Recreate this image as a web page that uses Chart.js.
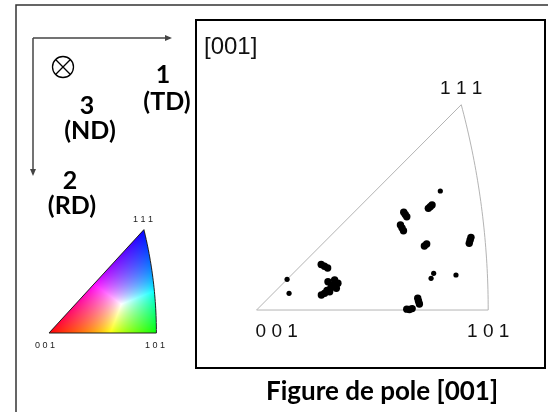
<!DOCTYPE html>
<html>
<head>
<meta charset="utf-8">
<script src="https://cdn.jsdelivr.net/npm/chart.js@4.4.0/dist/chart.umd.min.js"></script>
<style>
html, body { margin: 0; padding: 0; background: #fff; }
canvas { display: block; }
</style>
</head>
<body>
<canvas id="ipf" width="548" height="412"></canvas>
<script>
// stereographic coordinates (x toward 101, y toward 111) of the grains
var grainX = [0.1156, 0.1214, 0.1271,
  0.1277, 0.1366, 0.1427, 0.1307, 0.1159, 0.1218, 0.1396, 0.1455, 0.1330, 0.1260,
  0.3072, 0.3105, 0.3138,
  0.2632, 0.2659, 0.2686,
  0.2573, 0.2600, 0.2627,
  0.3001, 0.3042,
  0.3834, 0.3818, 0.3803,
  0.2882, 0.2897, 0.2912,
  0.2686, 0.2734, 0.2782];
var grainY = [0.0811, 0.0780, 0.0749,
  0.0505, 0.0446, 0.0387, 0.0326, 0.0267, 0.0298, 0.0535, 0.0476, 0.0400, 0.0350,
  0.1813, 0.1843, 0.1872,
  0.1742, 0.1703, 0.1664,
  0.1516, 0.1465, 0.1414,
  0.1141, 0.1177,
  0.1296, 0.1243, 0.1189,
  0.0209, 0.0158, 0.0107,
  0.0015, 0.0010, 0.0025];
// isolated small grains
var singleX = [0.3286, 0.3566, 0.0546, 0.0581, 0.3167, 0.3121];
var singleY = [0.2122, 0.0624, 0.0547, 0.0298, 0.0654, 0.0565];

// corners of the standard triangle
var cornerLabels = ['0 0 1', '1 0 1', '1 1 1'];
var cornerX = [0, Math.SQRT2 - 1, 1 / (Math.sqrt(3) + 1)];
var cornerY = [0, 0, 1 / (Math.sqrt(3) + 1)];

function toPoints(xs, ys) {
  return xs.map(function (x, i) { return { x: x, y: ys[i] }; });
}

// boundary of the standard triangle: 001-101 line, 101-111 arc, 111-001 line
function boundary() {
  var pts = [{ x: cornerX[0], y: cornerY[0] }, { x: cornerX[1], y: cornerY[1] }];
  var t1 = Math.atan2(cornerY[2], cornerX[2] + 1);
  for (var i = 1; i <= 40; i++) {
    var t = t1 * i / 40;
    pts.push({ x: -1 + Math.SQRT2 * Math.cos(t), y: Math.SQRT2 * Math.sin(t) });
  }
  pts.push({ x: cornerX[0], y: cornerY[0] });
  return pts;
}

// IPF colour of a point of the triangle (red 001, green 101, blue 111)
function ipfColor(u, v) {
  var r2 = u * u + v * v;
  var X = 2 * u / (1 + r2), Y = 2 * v / (1 + r2), Z = (1 - r2) / (1 + r2);
  var r = Math.max(Z - X, 0), g = Math.max(X - Y, 0), b = Math.max(Y, 0) * Math.sqrt(3);
  var m = Math.max(r, g, b) || 1;
  return [Math.pow(r / m, 0.75) * 255, Math.pow(g / m, 0.75) * 255, Math.pow(b / m, 0.75) * 255];
}

function drawKey(ctx) {
  var ox = 49, oy = 333, sx = 259.3, sy = 282.5;
  var w = 112, h = 108, x0 = 47, y0 = 226;
  var off = document.createElement('canvas');
  off.width = w; off.height = h;
  var octx = off.getContext('2d');
  var img = octx.createImageData(w, h);
  for (var j = 0; j < h; j++) {
    for (var i = 0; i < w; i++) {
      var u = (x0 + i + 0.5 - ox) / sx, v = (oy - (y0 + j + 0.5)) / sy;
      if (v < 0 || v > u || (u + 1) * (u + 1) + v * v > 2) continue;
      var c = ipfColor(u, v), k = (j * w + i) * 4;
      img.data[k] = c[0]; img.data[k + 1] = c[1]; img.data[k + 2] = c[2]; img.data[k + 3] = 255;
    }
  }
  octx.putImageData(img, 0, 0);
  ctx.drawImage(off, x0, y0);

  // outline
  ctx.strokeStyle = '#222';
  ctx.lineWidth = 1;
  ctx.beginPath();
  ctx.moveTo(ox, oy);
  ctx.lineTo(ox + cornerX[1] * sx, oy);
  var t1 = Math.atan2(cornerY[2], cornerX[2] + 1);
  for (var n = 1; n <= 30; n++) {
    var t = t1 * n / 30;
    ctx.lineTo(ox + (-1 + Math.SQRT2 * Math.cos(t)) * sx, oy - Math.SQRT2 * Math.sin(t) * sy);
  }
  ctx.lineTo(ox, oy);
  ctx.stroke();

  ctx.fillStyle = '#222';
  ctx.font = '9px "Liberation Sans", Arial, sans-serif';
  ctx.textBaseline = 'alphabetic';
  ctx.textAlign = 'left';
  ctx.fillText(cornerLabels[0], 35, 348);
  ctx.textAlign = 'center';
  ctx.fillText(cornerLabels[1], 155, 348);
  ctx.fillText(cornerLabels[2], 143, 222);
}

function arrow(ctx, x1, y1, x2, y2) {
  ctx.beginPath();
  ctx.moveTo(x1, y1);
  ctx.lineTo(x2, y2);
  ctx.stroke();
  var a = Math.atan2(y2 - y1, x2 - x1);
  ctx.beginPath();
  ctx.moveTo(x2 + Math.cos(a) * 2, y2 + Math.sin(a) * 2);
  ctx.lineTo(x2 - Math.cos(a) * 5 + Math.sin(a) * 3, y2 - Math.sin(a) * 5 - Math.cos(a) * 3);
  ctx.lineTo(x2 - Math.cos(a) * 5 - Math.sin(a) * 3, y2 - Math.sin(a) * 5 + Math.cos(a) * 3);
  ctx.closePath();
  ctx.fill();
}

var framePlugin = {
  id: 'frame',
  beforeDraw: function (chart) {
    var ctx = chart.ctx;
    ctx.save();
    ctx.fillStyle = '#fff';
    ctx.fillRect(0, 0, chart.width, chart.height);
    ctx.restore();
  },
  beforeDatasetsDraw: function (chart) {
    var ctx = chart.ctx, xs = chart.scales.x, ys = chart.scales.y;
    var pts = boundary();
    ctx.save();
    ctx.strokeStyle = '#b4b4b4';
    ctx.lineWidth = 1;
    ctx.beginPath();
    pts.forEach(function (p, i) {
      var px = xs.getPixelForValue(p.x), py = ys.getPixelForValue(p.y);
      if (i === 0) ctx.moveTo(px, py); else ctx.lineTo(px, py);
    });
    ctx.stroke();
    ctx.restore();
  },
  afterDraw: function (chart) {
    var ctx = chart.ctx, a = chart.chartArea, xs = chart.scales.x, ys = chart.scales.y;
    ctx.save();

    // outer frame and plot box
    ctx.strokeStyle = '#333';
    ctx.lineWidth = 1.5;
    ctx.strokeRect(16, 5, 700, 700);
    ctx.strokeStyle = '#000';
    ctx.lineWidth = 2;
    ctx.strokeRect(a.left - 1, a.top - 1, a.right - a.left + 2, a.bottom - a.top + 2);

    // corner labels of the pole figure
    ctx.fillStyle = '#111';
    ctx.font = '19px "Liberation Sans", Arial, sans-serif';
    ctx.textBaseline = 'alphabetic';
    ctx.textAlign = 'left';
    ctx.fillText(cornerLabels[0], xs.getPixelForValue(cornerX[0]) - 1, ys.getPixelForValue(cornerY[0]) + 27);
    ctx.textAlign = 'center';
    ctx.fillText(cornerLabels[1], xs.getPixelForValue(cornerX[1]), ys.getPixelForValue(cornerY[1]) + 27);
    ctx.fillText(cornerLabels[2], xs.getPixelForValue(cornerX[2]), ys.getPixelForValue(cornerY[2]) - 11);
    ctx.textAlign = 'left';
    ctx.font = '24px "Liberation Sans", Arial, sans-serif';
    ctx.fillText('[001]', 204, 54);

    // title
    ctx.fillStyle = '#000';
    ctx.font = 'bold 26px Lato, "DejaVu Sans", sans-serif';
    ctx.textAlign = 'center';
    ctx.fillText('Figure de pole [001]', 382, 400);

    // sample axes
    ctx.strokeStyle = '#444';
    ctx.fillStyle = '#444';
    ctx.lineWidth = 1.5;
    arrow(ctx, 33, 38, 170, 38);
    arrow(ctx, 33, 38, 33, 174);
    ctx.strokeStyle = '#000';
    ctx.lineWidth = 1.3;
    ctx.beginPath();
    ctx.arc(63, 67, 10.5, 0, Math.PI * 2);
    var d = 10.5 * Math.SQRT1_2;
    ctx.moveTo(63 - d, 67 - d); ctx.lineTo(63 + d, 67 + d);
    ctx.moveTo(63 + d, 67 - d); ctx.lineTo(63 - d, 67 + d);
    ctx.stroke();

    ctx.fillStyle = '#000';
    ctx.font = 'bold 25px Lato, "DejaVu Sans", sans-serif';
    ctx.textAlign = 'center';
    ctx.fillText('1', 163, 83);
    ctx.fillText('(TD)', 167, 110);
    ctx.fillText('3', 87, 114);
    ctx.fillText('(ND)', 90, 139);
    ctx.fillText('2', 70, 189);
    ctx.fillText('(RD)', 72, 214);

    drawKey(ctx);
    ctx.restore();
  }
};

new Chart(document.getElementById('ipf'), {
  type: 'scatter',
  data: {
    datasets: [{
      label: 'grains',
      data: toPoints(grainX, grainY),
      backgroundColor: '#000',
      borderWidth: 0,
      pointRadius: 3.7
    }, {
      label: 'single',
      data: toPoints(singleX, singleY),
      backgroundColor: '#000',
      borderWidth: 0,
      pointRadius: 2.6
    }]
  },
  options: {
    responsive: false,
    animation: false,
    devicePixelRatio: 1,
    layout: { padding: { left: 197, top: 21, right: 3, bottom: 45 } },
    scales: {
      x: { type: 'linear', min: -0.1065, max: 0.514, display: false },
      y: { type: 'linear', min: -0.1016, max: 0.5153, display: false }
    },
    plugins: {
      legend: { display: false },
      tooltip: { enabled: false }
    }
  },
  plugins: [framePlugin]
});
</script>
</body>
</html>
